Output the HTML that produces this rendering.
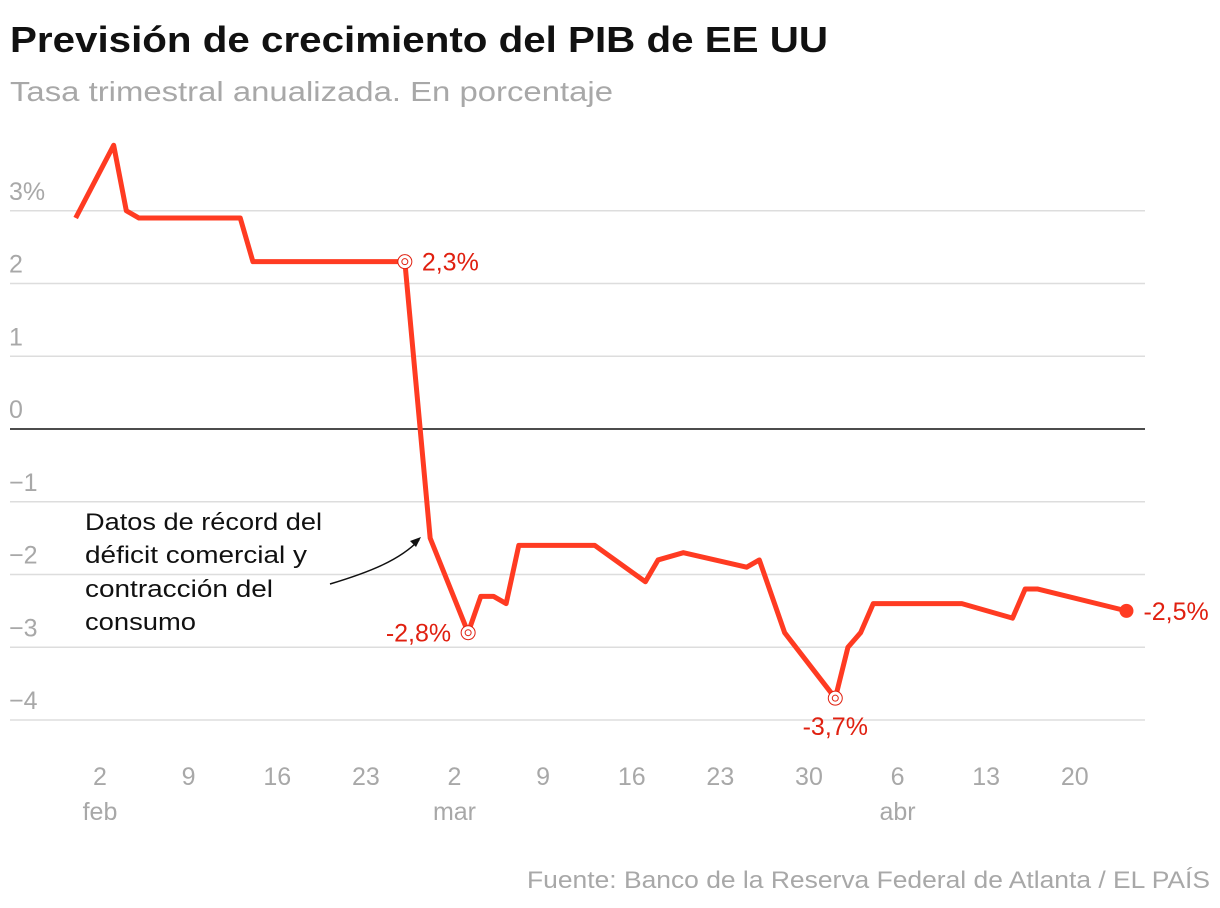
<!DOCTYPE html>
<html><head><meta charset="utf-8"><style>
body{margin:0;background:#fff;width:1220px;height:908px;overflow:hidden;font-family:"Liberation Sans",sans-serif}
</style></head><body>
<svg width="1220" height="908" style="position:absolute;left:0;top:0">
<text x="10" y="52" font-size="36" font-weight="bold" fill="#111" textLength="818" lengthAdjust="spacingAndGlyphs">Previsión de crecimiento del PIB de EE UU</text>
<text x="10" y="101" font-size="28" fill="#a8a8a8" textLength="603" lengthAdjust="spacingAndGlyphs">Tasa trimestral anualizada. En porcentaje</text>
<g id="grid"></g><g id="xaxis"></g>
<path id="line" fill="none" stroke="#ff3b22" stroke-width="5" stroke-linejoin="round"/>
<g id="marks"></g>
<text font-size="24" fill="#111"><tspan x="85" y="530" textLength="237" lengthAdjust="spacingAndGlyphs">Datos de récord del</tspan><tspan x="85" y="563" textLength="222" lengthAdjust="spacingAndGlyphs">déficit comercial y</tspan><tspan x="85" y="597" textLength="188" lengthAdjust="spacingAndGlyphs">contracción del</tspan><tspan x="85" y="630" textLength="111" lengthAdjust="spacingAndGlyphs">consumo</tspan></text>
<path d="M330,584 C370,572 400,560 419,540" fill="none" stroke="#111" stroke-width="1.5"/>
<path d="M421,537 L410,541 L416,547 Z" fill="#111"/>
<text x="1210" y="888" font-size="24" fill="#a8a8a8" text-anchor="end" textLength="683" lengthAdjust="spacingAndGlyphs">Fuente: Banco de la Reserva Federal de Atlanta / EL PAÍS</text>
</svg>
<script>
const dates=["01-31","02-03","02-04","02-05","02-13","02-14","02-26","02-28","03-03","03-04","03-05","03-06","03-07","03-13","03-17","03-18","03-20","03-25","03-26","03-28","04-01","04-02","04-03","04-04","04-11","04-15","04-16","04-17","04-24"];
const values=[2.9,3.9,3.0,2.9,2.9,2.3,2.3,-1.5,-2.8,-2.3,-2.3,-2.4,-1.6,-1.6,-2.1,-1.8,-1.7,-1.9,-1.8,-2.8,-3.7,-3.0,-2.8,-2.4,-2.4,-2.6,-2.2,-2.2,-2.5];
const yTicks=[3,2,1,0,-1,-2,-3,-4];
const yTickLabels=["3%","2","1","0","\u22121","\u22122","\u22123","\u22124"];
const xTickDates=["02-02","02-09","02-16","02-23","03-02","03-09","03-16","03-23","03-30","04-06","04-13","04-20"];
const xTickLabels=["2","9","16","23","2","9","16","23","30","6","13","20"];
const xMonthLabels=["feb","","","","mar","","","","","abr","",""];
const callouts=[["02-26",2.3,"2,3%","r"],["03-03",-2.8,"-2,8%","l"],["04-01",-3.7,"-3,7%","b"],["04-24",-2.5,"-2,5%","r"]];
const NS="http://www.w3.org/2000/svg";
function day(s){const d=new Date("2025-"+s+"T00:00:00Z");return (d-new Date("2025-02-02T00:00:00Z"))/864e5;}
function X(s){return 101+day(s)*12.66;}
function Y(v){return 429-v*72.75;}
function mk(t,a,p,txt){const e=document.createElementNS(NS,t);for(const k in a)e.setAttribute(k,a[k]);if(txt!=null)e.textContent=txt;p.appendChild(e);return e;}
const grid=document.getElementById('grid');
yTicks.forEach((v,i)=>{
 const l=mk('line',{x1:10,x2:1145,y1:Y(v),y2:Y(v),stroke:v===0?'#111':'#ddd','stroke-width':1.5},grid);
 
 
 const t=mk('text',{x:9,y:Y(v)-11,'font-size':25,fill:'#a8a8a8'},grid,yTickLabels[i]);
 
 
});
const xa=document.getElementById('xaxis');
xTickDates.forEach((d,i)=>{
 const t=mk('text',{x:X(d)-1,y:785,'font-size':25,fill:'#a8a8a8','text-anchor':'middle'},xa,xTickLabels[i]);
 
 
 if(xMonthLabels[i]){const m=mk('text',{x:X(d)-1,y:820,'font-size':25,fill:'#a8a8a8','text-anchor':'middle'},xa,xMonthLabels[i]);
 
 }
});
document.getElementById('line').setAttribute('d',dates.map((d,i)=>(i?'L':'M')+X(d)+','+Y(values[i])).join(' '));
const mg=document.getElementById('marks');
callouts.forEach(([d,v,lab,pos],i)=>{
 const x=X(d),y=Y(v);
 if(i===callouts.length-1){const c=mk('circle',{cx:x,cy:y,r:7,fill:'#ff3b22'},mg);}
 else{mk('circle',{cx:x,cy:y,r:7,fill:'#fff',stroke:'#e02010','stroke-width':1},mg);const c=mk('circle',{cx:x,cy:y,r:3,fill:'#fff',stroke:'#e02010','stroke-width':1},mg);}
 let a={'font-size':25,fill:'#e02010'};
 if(pos==='r'){a.x=x+17;a.y=y+9;}else if(pos==='l'){a.x=x-17;a.y=y+9;a['text-anchor']='end';}else{a.x=x;a.y=y+37;a['text-anchor']='middle';}
 const t=mk('text',a,mg,lab);
 
 
});
</script>
</body></html>
